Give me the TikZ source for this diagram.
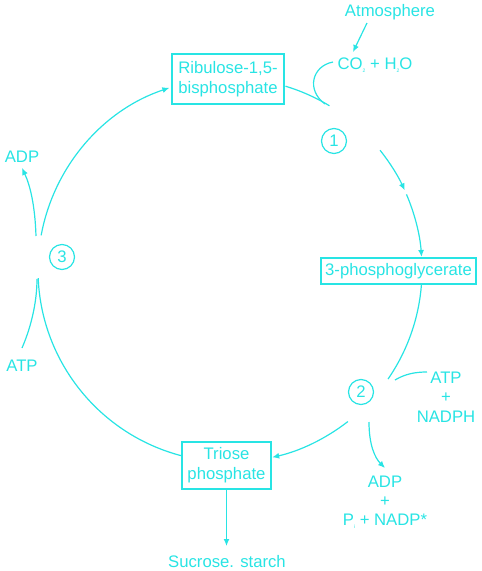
\documentclass[tikz,border=0pt]{standalone}
\usepackage{fontspec}
\setmainfont{Liberation Sans}
\usetikzlibrary{arrows.meta,calc}
\definecolor{cy}{RGB}{40,228,228}
\newcommand{\tsub}[1]{\raisebox{-2.5pt}{\fontsize{5}{5}\selectfont #1}}
\begin{document}
\begin{tikzpicture}[x=1pt,y=1pt,
  every node/.style={text=cy, font=\fontsize{16.7}{20}\selectfont},
  lbl/.style={align=center, inner sep=0pt},
  box/.style={draw=cy, line width=1.2pt, align=center, inner sep=0pt},
  num/.style={draw=cy, circle, line width=1.2pt, minimum size=25pt, inner sep=0pt},
  conn/.style={draw=cy, line width=1.2pt},
  arr/.style={conn, -{Latex[length=7pt,width=6pt]}}]
\useasboundingbox (0,0) rectangle (482,-571);
% nodes
\node[lbl] (atm) at (390,-12) {Atmosphere};
\node[lbl] (co2) at (375,-65) {CO\tsub{2} + H\tsub{2}O};
\node[box, minimum width=112pt, minimum height=50pt] (rib) at (228,-79) {Ribulose-1,5-\\bisphosphate};
\node[box, minimum width=155pt, minimum height=26pt] (pga) at (398.5,-271) {3-phosphoglycerate};
\node[box, minimum width=89pt, minimum height=47pt] (tri) at (226.5,-465.5) {Triose\\phosphate};
\node[num] (n1) at (334,-141) {1};
\node[num] (n2) at (361,-392) {2};
\node[num] (n3) at (62,-257) {3};
\node[lbl, font=\fontsize{16.7}{19.5}\selectfont] (atpn) at (446,-397) {ATP\\+\\NADPH};
\node[lbl, font=\fontsize{16.7}{19}\selectfont] (adpp) at (385,-502) {ADP\\+\\P\tsub{i} + NADP*};
\node[lbl] (adp3) at (22,-157) {ADP};
\node[lbl] (atp3) at (22,-366) {ATP};
\node[lbl] (suc) at (227,-562) {Sucrose. starch};
% cycle geometry
\coordinate (c) at (230,-270);
\def\R{192pt}
\coordinate (s1) at ($(c)+(73.2:\R)$);
\coordinate (s2) at ($(c)+(38.6:\R)$);
\coordinate (s3) at ($(c)+(23.2:\R)$);
\coordinate (s4) at ($(c)+(-4.2:\R)$);
\coordinate (s5) at ($(c)+(-52.1:\R)$);
\coordinate (s6) at ($(c)+(-104.3:\R)$);
\coordinate (s7) at ($(c)+(169.6:\R)$);
% cycle arcs
\draw[conn] (s1) arc[start angle=73.2, end angle=58.8, radius=\R];
\draw[arr] (s2) arc[start angle=38.6, end angle=24.5, radius=\R];
\draw[arr] (s3) arc[start angle=23.2, end angle=3.9, radius=\R];
\draw[conn] (s4) arc[start angle=-4.2, end angle=-34.6, radius=\R];
\draw[arr] (s5) arc[start angle=-52.1, end angle=-77.3, radius=\R];
\draw[conn] (s6) arc[start angle=-104.3, end angle=-177.6, radius=\R];
\draw[arr] (s7) arc[start angle=169.6, end angle=108.4, radius=\R];
% side connectors
\coordinate (atmS) at (367,-23);
\coordinate (co2T) at (353,-52);
\draw[arr] (atmS) -- (co2T);
\coordinate (co2W) at (333,-62);
\coordinate (co2E) at (325,-104);
\draw[conn] (co2W) .. controls (312,-66) and (306,-90) .. (co2E);
\coordinate (atpA) at (395,-380);
\coordinate (atpB) at (427,-372);
\draw[conn] (atpA) .. controls (405,-374) and (415,-372) .. (atpB);
\coordinate (adpA) at (369,-422);
\coordinate (adpB) at (385,-468);
\draw[arr] (adpA) .. controls (369,-445) and (375,-458) .. (adpB);
\coordinate (adp3A) at (36,-236);
\coordinate (adp3B) at (22,-168);
\draw[arr] (adp3A) .. controls (35,-205) and (30,-185) .. (adp3B);
\coordinate (atp3A) at (22,-348);
\coordinate (atp3B) at (37,-279);
\draw[conn] (atp3A) .. controls (32,-325) and (37,-300) .. (atp3B);
\draw[arr] (tri.south) -- (226.5,-546) coordinate (sucT);
\end{tikzpicture}
\end{document}
